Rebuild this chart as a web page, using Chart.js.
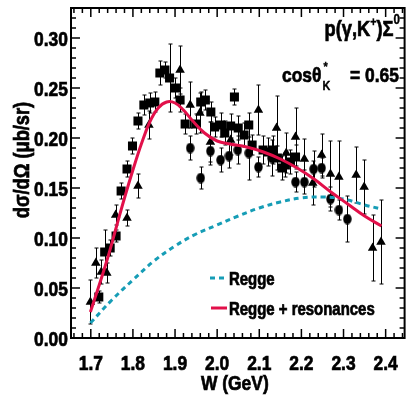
<!DOCTYPE html>
<html>
<head>
<meta charset="utf-8">
<script src="https://cdn.jsdelivr.net/npm/chart.js@4.4.1/dist/chart.umd.min.js"></script>
<style>
html,body{margin:0;padding:0;background:#fff}
</style>
</head>
<body>
<canvas id="c" width="411" height="400"></canvas>
<script>

// data: W in GeV, dsigma/dOmega in microbarn/sr
const sqW=[1.719,1.733,1.746,1.760,1.772,1.786,1.799,1.812,1.826,1.840,1.852,1.864,1.876,1.887,1.901,1.912,1.924,1.949,1.961,1.972,1.985,1.994,2.008,2.018,2.032,2.041,2.050,2.064,2.075,2.083,2.109,2.121,2.133,2.143,2.154,2.162,2.174,2.186];
const sqVal=[0.041,0.086,0.090,0.102,0.147,0.169,0.192,0.217,0.233,0.235,0.236,0.265,0.268,0.260,0.250,0.238,0.214,0.214,0.236,0.238,0.226,0.211,0.213,0.205,0.212,0.241,0.210,0.203,0.213,0.193,0.188,0.186,0.188,0.180,0.170,0.173,0.176,0.181];
const sqErr=[0.006,0.022,0.008,0.006,0.008,0.008,0.008,0.008,0.010,0.010,0.010,0.012,0.008,0.034,0.010,0.012,0.010,0.010,0.010,0.010,0.010,0.010,0.012,0.012,0.012,0.008,0.012,0.012,0.012,0.010,0.014,0.014,0.014,0.012,0.012,0.012,0.012,0.012];

const ciW=[1.936,1.961,1.984,2.008,2.028,2.049,2.075,2.098,2.130,2.186,2.207,2.229,2.248,2.269,2.289,2.309];
const ciVal=[0.190,0.160,0.187,0.178,0.182,0.188,0.185,0.171,0.180,0.156,0.156,0.169,0.170,0.139,0.128,0.119];
const ciErr=[0.012,0.011,0.014,0.012,0.012,0.014,0.027,0.010,0.018,0.010,0.012,0.018,0.010,0.012,0.010,0.023];

const trW=[1.699,1.712,1.725,1.738,1.759,1.786,1.812,1.838,1.912,1.936,1.959,1.984,2.032,2.098,2.141,2.164,2.186,2.207,2.227,2.248,2.269,2.289,2.330,2.349,2.369,2.389];
const trVal=[0.036,0.075,0.066,0.065,0.123,0.120,0.152,0.213,0.268,0.233,0.225,0.196,0.198,0.228,0.210,0.185,0.201,0.179,0.155,0.183,0.164,0.161,0.163,0.151,0.090,0.096];
const trErr=[0.022,0.015,0.012,0.010,0.010,0.008,0.012,0.014,0.024,0.023,0.020,0.020,0.015,0.025,0.032,0.020,0.029,0.020,0.022,0.021,0.033,0.036,0.028,0.027,0.033,0.042];

const resW=[1.699,1.72,1.74,1.76,1.78,1.80,1.82,1.84,1.86,1.88,1.90,1.92,1.94,1.97,2.00,2.03,2.07,2.11,2.15,2.19,2.23,2.27,2.31,2.35,2.39];
const resVal=[0.026,0.053,0.080,0.110,0.140,0.168,0.194,0.216,0.230,0.236,0.235,0.228,0.218,0.205,0.197,0.194,0.191,0.186,0.179,0.170,0.159,0.146,0.134,0.122,0.112];

const reggeW=[1.699,1.75,1.80,1.85,1.90,1.95,2.00,2.05,2.10,2.15,2.20,2.25,2.30,2.35,2.39];
const reggeVal=[0.015,0.038,0.058,0.077,0.092,0.104,0.113,0.122,0.130,0.136,0.140,0.141,0.139,0.133,0.129];

const xTicks=[1.7,1.8,1.9,2.0,2.1,2.2,2.3,2.4];
const yTicks=[0,0.05,0.10,0.15,0.20,0.25,0.30];

const FONT="'Liberation Sans',Arial,sans-serif";
const SX=0.83; // squeeze text sideways to look like a narrow face
const RED="#e2104a";
const TEAL="#169db6";

function pts(xs,ys){
return xs.map((v,i)=>({x:v,y:ys[i]}));
}

// write narrow, heavy text at x,y; returns its drawn width
function txt(ctx,s,x,y,size,align,rot){
ctx.save();
ctx.font="bold "+size+"px "+FONT;
ctx.textAlign=align||"left";
ctx.textBaseline="alphabetic";
ctx.fillStyle="#000";
ctx.strokeStyle="#000";
ctx.lineWidth=size>15?0.7:0.4;
ctx.translate(x,y);
if(rot) ctx.rotate(rot);
ctx.scale(SX,1);
ctx.fillText(s,0,0);
ctx.strokeText(s,0,0);
let w=ctx.measureText(s).width*SX;
ctx.restore();
return w;
}

// tall ellipse marker, like the ROOT circles in the figure
const dot=document.createElement("canvas");
dot.width=9;dot.height=11;
let g=dot.getContext("2d");
g.fillStyle="#000";
g.beginPath();
g.ellipse(4.5,5.5,4.2,5.3,0,0,2*Math.PI);
g.fill();

const errorBars={
id:"errorBars",
beforeDatasetsDraw(chart){
const {ctx,scales:{x,y}}=chart;
ctx.save();
ctx.strokeStyle="#000";
ctx.lineWidth=1;
chart.data.datasets.forEach(ds=>{
if(!ds.errs) return;
ds.data.forEach((p,i)=>{
let px=Math.round(x.getPixelForValue(p.x))+0.5;
let y1=y.getPixelForValue(p.y+ds.errs[i]);
let y2=y.getPixelForValue(p.y-ds.errs[i]);
ctx.beginPath();
ctx.moveTo(px,y1);ctx.lineTo(px,y2);
ctx.moveTo(px-2,y1);ctx.lineTo(px+2,y1);
ctx.moveTo(px-2,y2);ctx.lineTo(px+2,y2);
ctx.stroke();
});
});
ctx.restore();
}
};

// frame with ticks on all four sides, pointing inward, plus tick labels
const frameTicks={
id:"frameTicks",
afterDraw(chart){
const {ctx,chartArea:a,scales:{x,y}}=chart;
ctx.save();
ctx.strokeStyle="#000";
ctx.lineWidth=1.5;
ctx.beginPath();
for(let i=83;i<=122;i++){
let px=x.getPixelForValue(i/50);
let len=(i%5==0)?9:5;
ctx.moveTo(px,a.bottom);ctx.lineTo(px,a.bottom-len);
ctx.moveTo(px,a.top);ctx.lineTo(px,a.top+len);
}
for(let i=0;i<=33;i++){
let py=y.getPixelForValue(i/100);
let len=(i%5==0)?9:5;
ctx.moveTo(a.left,py);ctx.lineTo(a.left+len,py);
ctx.moveTo(a.right,py);ctx.lineTo(a.right-len,py);
}
ctx.stroke();
ctx.lineWidth=2;
ctx.strokeRect(a.left,a.top,a.right-a.left,a.bottom-a.top);
ctx.restore();

xTicks.forEach(v=>txt(ctx,v.toFixed(1),x.getPixelForValue(v),370,21,"center"));
yTicks.forEach(v=>txt(ctx,v.toFixed(2),68,y.getPixelForValue(v)+7.5,21,"right"));
txt(ctx,"W (GeV)",(a.left+a.right)/2-3,390,21,"center");
txt(ctx,"dσ/dΩ (μb/sr)",29,160,22,"center",-Math.PI/2);
}
};

// reaction label, angle label and legend
const labels={
id:"labels",
afterDraw(chart){
const ctx=chart.ctx;
ctx.save();
let parts=[["p(γ,K",22,0],["+",13,-10],[")Σ",22,0],["0",14,-12]];
let w=0;
parts.forEach(p=>{ctx.font="bold "+p[1]+"px "+FONT;w+=ctx.measureText(p[0]).width*SX;});
let cx=400-w;
parts.forEach(p=>{cx+=txt(ctx,p[0],cx,36+p[2],p[1]);});

let tx=282+txt(ctx,"cosθ",282,82,21)+1;
txt(ctx,"*",tx+1,71,13);
txt(ctx,"K",tx,90,13);
txt(ctx,"= 0.65",399,82,21,"right");

txt(ctx,"Regge",229,285,18);
txt(ctx,"Regge + resonances",229,315,18);

ctx.lineWidth=3;
ctx.strokeStyle=TEAL;
ctx.setLineDash([5,4]);
ctx.beginPath();ctx.moveTo(210,278);ctx.lineTo(227,278);ctx.stroke();
ctx.setLineDash([]);
ctx.strokeStyle=RED;
ctx.beginPath();ctx.moveTo(211,308);ctx.lineTo(227,308);ctx.stroke();
ctx.restore();
}
};

new Chart(document.getElementById("c"),{
type:"scatter",
data:{
datasets:[
{
label:"Regge + resonances",
data:pts(resW,resVal),
showLine:true,
borderColor:RED,
borderWidth:3,
pointRadius:0,
tension:0.4
},
{
label:"Regge",
data:pts(reggeW,reggeVal),
showLine:true,
borderColor:TEAL,
borderWidth:3,
borderDash:[5,4],
pointRadius:0,
tension:0.4
},
{
label:"squares",
data:pts(sqW,sqVal),
errs:sqErr,
pointStyle:"rect",
pointRadius:6.4,
backgroundColor:"#000",
borderColor:"#000",
borderWidth:0
},
{
label:"triangles",
data:pts(trW,trVal),
errs:trErr,
pointStyle:"triangle",
pointRadius:5.5,
backgroundColor:"#000",
borderColor:"#000",
borderWidth:0
},
{
label:"circles",
data:pts(ciW,ciVal),
errs:ciErr,
pointStyle:dot,
pointRadius:5,
backgroundColor:"#000",
borderColor:"#000",
borderWidth:0
}
]
},
options:{
responsive:false,
animation:false,
layout:{padding:{top:8,right:2,left:0,bottom:0}},
plugins:{legend:{display:false},tooltip:{enabled:false}},
scales:{
x:{
type:"linear",
min:1.653,
max:2.445,
afterFit(s){s.height=62;},
afterBuildTicks(s){s.ticks=xTicks.map(v=>({value:v}));},
grid:{display:false},
border:{display:false},
ticks:{display:false}
},
y:{
type:"linear",
min:0,
max:0.33,
afterFit(s){s.width=71;},
afterBuildTicks(s){s.ticks=yTicks.map(v=>({value:v}));},
grid:{display:false},
border:{display:false},
ticks:{display:false}
}
}
},
plugins:[errorBars,frameTicks,labels]
});

</script>
</body>
</html>
